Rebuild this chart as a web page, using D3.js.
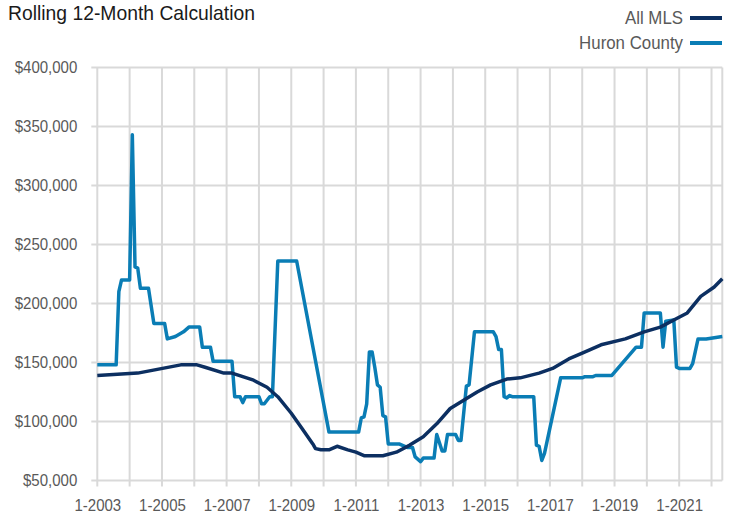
<!DOCTYPE html>
<html>
<head>
<meta charset="utf-8">
<script src="https://cdn.jsdelivr.net/npm/d3@7"></script>
<style>
  body { margin: 0; background: #fff; }
  text { font-family: "Liberation Sans", Arial, sans-serif; }
</style>
</head>
<body>
<div id="app"></div>
<script>
// months are "YYYY-MM", values in dollars
const mlsMonths = ['2003-01','2004-04','2005-08','2006-02','2006-05','2006-12','2007-03','2007-11','2008-04','2008-08',
  '2009-01','2009-05','2009-09','2009-10','2009-12','2010-03','2010-06','2010-10','2011-01','2011-04','2011-11',
  '2012-04','2012-09','2013-02','2013-07','2013-12','2014-05','2014-10','2015-03','2015-09','2016-02','2016-09',
  '2017-02','2017-08','2018-01','2018-08','2019-05','2019-12','2020-06','2020-11','2021-04','2021-09','2022-02','2022-05']
const mlsValues = [139000,141000,148000,148000,146000,141000,141000,135000,129000,121000,
  107000,94000,81000,77000,76000,76000,79000,76000,74000,71000,71000,
  74000,80000,87000,98000,111000,118000,125000,131000,136000,137000,141000,
  145000,153000,158000,165000,170000,176000,180000,186000,192000,206000,214000,221000]

const huronMonths = ['2003-01','2003-08','2003-09','2003-10','2004-01','2004-02','2004-03','2004-04','2004-05','2004-08',
  '2004-10','2005-02','2005-03','2005-06','2005-09','2005-11','2006-03','2006-04','2006-07','2006-08',
  '2007-03','2007-04','2007-06','2007-07','2007-08','2008-01','2008-02','2008-03','2008-05','2008-06',
  '2008-08','2009-03','2010-03','2011-02','2011-03','2011-04','2011-05','2011-06','2011-07','2011-08',
  '2011-09','2011-10','2011-11','2011-12','2012-01','2012-05','2012-08','2012-10','2012-11','2013-01',
  '2013-02','2013-06','2013-07','2013-09','2013-10','2013-11','2014-02','2014-03','2014-04','2014-06',
  '2014-07','2014-09','2015-04','2015-05','2015-06','2015-07','2015-08','2015-09','2015-10','2015-11',
  '2016-07','2016-08','2016-09','2016-10','2016-11','2017-05','2018-01','2018-02','2018-05','2018-06',
  '2018-12','2019-09','2019-11','2019-12','2020-06','2020-07','2020-08','2020-11','2020-12','2021-01',
  '2021-05','2021-06','2021-08','2021-11','2022-02','2022-05']
const huronValues = [148000,148000,210000,220000,220000,343000,231000,230000,213000,213000,
  183000,183000,170000,172000,176000,180000,180000,163000,163000,151000,
  151000,121000,121000,116000,121000,121000,115000,115000,121000,121000,
  236000,236000,91000,91000,103000,104000,115000,159000,159000,146000,
  131000,129000,105000,104000,81000,81000,78000,78000,70000,66000,
  69000,69000,89000,75000,75000,89000,89000,84000,84000,130000,
  131000,176000,176000,172000,161000,161000,121000,120000,122000,121000,
  121000,80000,79000,67000,73000,137000,137000,138000,138000,139000,
  139000,163000,163000,192000,192000,163000,185000,186000,146000,145000,
  145000,149000,170000,170000,171000,172000]

const yTicks = [50000,100000,150000,200000,250000,300000,350000,400000]
const xTickYears = [2003,2004,2005,2006,2007,2008,2009,2010,2011,2012,2013,2014,2015,2016,2017,2018,2019,2020,2021,2022]
const xLabelYears = [2003,2005,2007,2009,2011,2013,2015,2017,2019,2021]
const lastMonth = '2022-05'

const width = 732
const height = 515
const plotLeft = 97.3
const plotRight = 722.3
const plotTop = 67.5
const plotBottom = 480.5

const monthIndex = s => {
  const [yy, mm] = s.split('-').map(Number)
  return (yy - 2003) * 12 + (mm - 1)
}

// squeeze text a little so it looks like the condensed face of the original
function squeeze(sel, k) {
  sel.each(function () {
    const w = this.getComputedTextLength()
    d3.select(this).attr('textLength', w * k).attr('lengthAdjust', 'spacingAndGlyphs')
  })
}

const svg = d3.select('#app')
  .append('svg')
  .attr('width', width)
  .attr('height', height)

const x = d3.scaleLinear()
  .domain([0, monthIndex(lastMonth)])
  .range([plotLeft, plotRight])

const y = d3.scaleLinear()
  .domain([50000, 400000])
  .range([plotBottom, plotTop])

const grid = '#d9d9d9'

// horizontal gridlines
svg.append('g')
  .selectAll('line')
  .data(yTicks)
  .enter()
  .append('line')
  .attr('x1', plotLeft - 6)
  .attr('x2', plotRight)
  .attr('y1', d => y(d))
  .attr('y2', d => y(d))
  .attr('stroke', grid)
  .attr('stroke-width', 2)

// vertical gridlines (also the year ticks)
svg.append('g')
  .selectAll('line')
  .data(xTickYears)
  .enter()
  .append('line')
  .attr('x1', d => x((d - 2003) * 12))
  .attr('x2', d => x((d - 2003) * 12))
  .attr('y1', plotTop)
  .attr('y2', plotBottom + 6)
  .attr('stroke', grid)
  .attr('stroke-width', 2)

svg.append('line')
  .attr('x1', plotRight).attr('x2', plotRight)
  .attr('y1', plotTop).attr('y2', plotBottom)
  .attr('stroke', grid)
  .attr('stroke-width', 2)

// y labels
const axisY = d3.axisLeft(y)
  .tickValues(yTicks)
  .tickSize(0)
  .tickPadding(20)
  .tickFormat(d3.format('$,'))
svg.append('g')
  .attr('transform', `translate(${plotLeft}, 0)`)
  .call(axisY)
  .call(g => g.select('.domain').remove())
  .call(g => g.selectAll('text').attr('font-size', 16.5).attr('fill', '#595959')
    .style('font-family', '"Liberation Sans", Arial, sans-serif').call(squeeze, 0.91))

// x labels
const axisX = d3.axisBottom(x)
  .tickValues(xLabelYears.map(d => (d - 2003) * 12))
  .tickSize(0)
  .tickPadding(18.5)
  .tickFormat(d => '1-' + (2003 + d / 12))
svg.append('g')
  .attr('transform', `translate(0, ${plotBottom})`)
  .call(axisX)
  .call(g => g.select('.domain').remove())
  .call(g => g.selectAll('text').attr('font-size', 16.5).attr('fill', '#595959')
    .style('font-family', '"Liberation Sans", Arial, sans-serif').call(squeeze, 0.91))

const line = d3.line()
  .x(d => x(d[0]))
  .y(d => y(d[1]))

const mls = mlsMonths.map((m, i) => [monthIndex(m), mlsValues[i]])
const huron = huronMonths.map((m, i) => [monthIndex(m), huronValues[i]])

const navy = '#0c2f61'
const blue = '#0a7db5'

svg.append('path')
  .datum(huron)
  .attr('d', line)
  .attr('fill', 'none')
  .attr('stroke', blue)
  .attr('stroke-width', 3.5)
  .attr('stroke-linejoin', 'round')

svg.append('path')
  .datum(mls)
  .attr('d', line)
  .attr('fill', 'none')
  .attr('stroke', navy)
  .attr('stroke-width', 3.5)
  .attr('stroke-linejoin', 'round')

// title
svg.append('text')
  .attr('x', 8)
  .attr('y', 20)
  .attr('font-size', 21)
  .attr('fill', '#1a1a1a')
  .text('Rolling 12-Month Calculation')
  .call(squeeze, 0.92)

// legend
const legend = [['All MLS', navy], ['Huron County', blue]]
const lg = svg.append('g')
legend.forEach((d, i) => {
  const ly = 18 + i * 25
  lg.append('text')
    .attr('x', 683)
    .attr('y', ly)
    .attr('dy', '0.35em')
    .attr('text-anchor', 'end')
    .attr('font-size', 18.5)
    .attr('fill', '#595959')
    .text(d[0])
    .call(squeeze, 0.91)
  lg.append('line')
    .attr('x1', 690).attr('x2', 722)
    .attr('y1', ly).attr('y2', ly)
    .attr('stroke', d[1])
    .attr('stroke-width', 4)
})
</script>
</body>
</html>
